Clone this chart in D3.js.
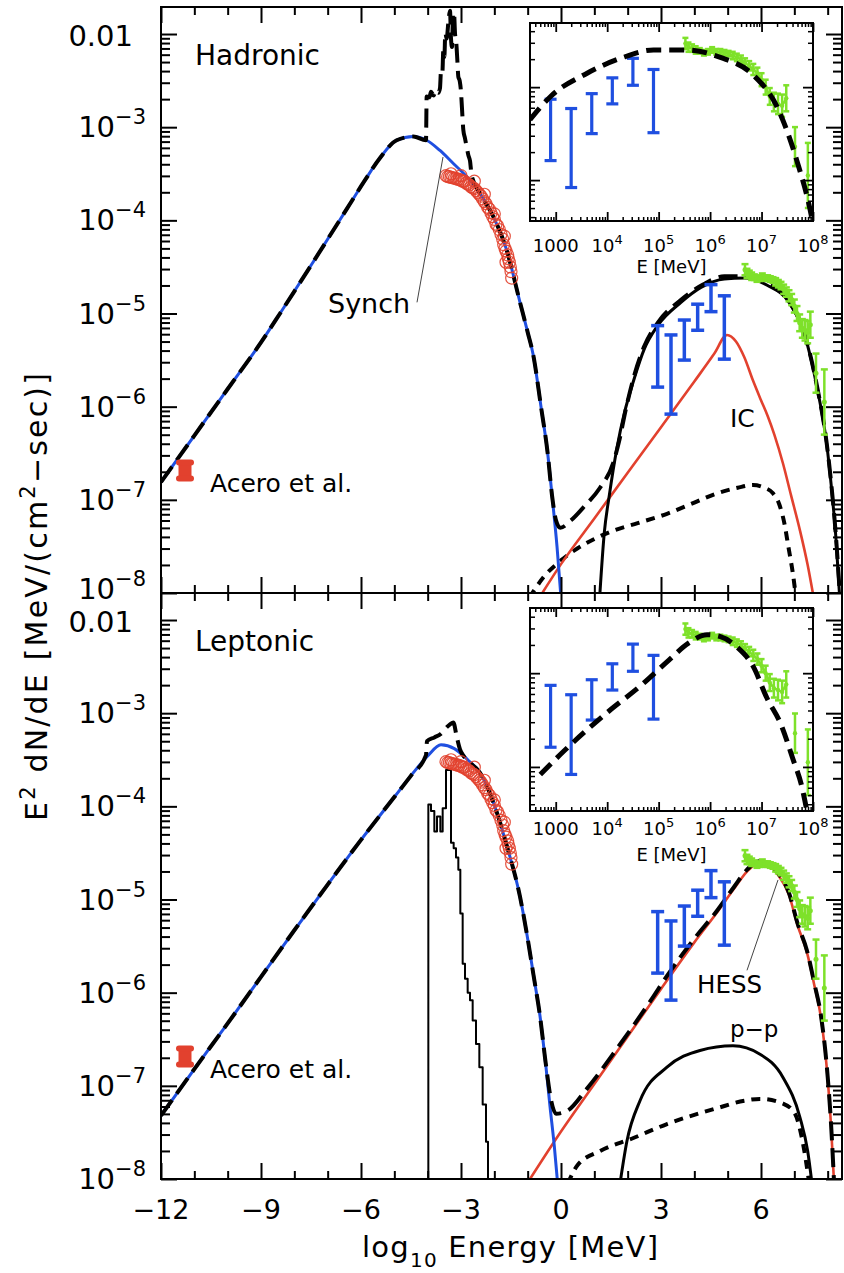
<!DOCTYPE html>
<html><head><meta charset="utf-8">
<script src="https://cdn.jsdelivr.net/npm/d3@7"></script>
<style>
body{margin:0;background:#fff}
svg{display:block}
text{font-family:"DejaVu Sans",sans-serif;fill:#000}
</style></head>
<body><svg id="c" width="844" height="1273"></svg>
<script>
// ---------------- DATA (log10 E [MeV], log10 E^2 dN/dE) ----------------
const xMajorTicks = [-12, -9, -6, -3, 0, 3, 6];
const yDecades = [-8, -7, -6, -5, -4, -3, -2];
const insetDecadesX = [3, 4, 5, 6, 7, 8];
const panelNames = ["Hadronic", "Leptonic"];

// Hadronic model
const synchHad = [[-12,-6.81],[-11,-6.31],[-10,-5.81],[-9,-5.31],[-8.43,-5.0],[-7.44,-4.45],[-6.43,-3.88],[-5.9,-3.58],[-5.43,-3.33],[-4.93,-3.14],[-4.43,-3.10],[-4.03,-3.14],[-3.63,-3.25],[-3.23,-3.39],[-2.83,-3.53],[-2.43,-3.71],[-2.03,-3.96],[-1.63,-4.32],[-1.23,-4.88],[-1.0,-5.2],[-0.83,-5.45],[-0.6,-6.0],[-0.4,-6.5],[-0.27,-6.95],[-0.12,-7.5],[0.0,-8.05]];
const totalHad = [[-12,-6.81],[-11,-6.31],[-10,-5.81],[-9,-5.31],[-8.43,-5.0],[-7.44,-4.45],[-6.43,-3.88],[-5.9,-3.58],[-5.43,-3.33],[-4.93,-3.14],[-4.43,-3.10],[-4.05,-3.14],
 [-4.03,-2.67],[-3.95,-2.68],[-3.90,-2.62],[-3.82,-2.66],[-3.75,-2.60],[-3.68,-2.63],[-3.63,-2.58],[-3.60,-2.40],[-3.56,-2.42],[-3.53,-2.17],[-3.50,-2.25],[-3.47,-1.99],[-3.43,-2.05],[-3.38,-1.88],[-3.33,-1.75],[-3.30,-2.05],[-3.27,-2.14],[-3.24,-1.80],[-3.21,-1.77],[-3.18,-1.99],[-3.14,-2.10],[-3.11,-2.28],[-3.08,-2.46],[-3.04,-2.50],[-3.00,-2.62],[-2.97,-2.80],[-2.93,-3.03],[-2.88,-3.12],[-2.83,-3.21],[-2.78,-3.30],[-2.73,-3.36],[-2.68,-3.52],
 [-2.43,-3.71],[-2.03,-3.96],[-1.63,-4.32],[-1.23,-4.88],[-1.0,-5.2],[-0.83,-5.45],[-0.6,-6.0],[-0.4,-6.5],[-0.27,-6.95],
 [-0.15,-7.22],[-0.02,-7.30],[0.3,-7.22],[0.7,-7.07],[1.17,-6.87],[1.57,-6.60],[1.75,-6.36],[1.95,-6.02],[2.17,-5.70],[2.5,-5.35],[2.9,-5.10],[3.61,-4.85],[4.26,-4.69],[4.9,-4.60],[5.55,-4.60],[6.2,-4.68],[6.84,-4.87],[7.3,-5.21],[7.68,-5.78],[7.97,-6.39],[8.1,-6.8],[8.25,-7.4],[8.38,-8.1]];
const pionHad = [[1.15,-8.1],[1.3,-7.35],[1.45,-6.95],[1.68,-6.44],[1.9,-6.07],[2.17,-5.73],[2.5,-5.38],[2.9,-5.13],[3.6,-4.88],[4.2,-4.72],[4.9,-4.63],[5.5,-4.62],[6.2,-4.70],[6.84,-4.88],[7.3,-5.22],[7.68,-5.79],[7.97,-6.40],[8.1,-6.82],[8.25,-7.42],[8.37,-8.1]];
const icHad = [[-0.65,-8.05],[0,-7.69],[1,-7.2],[2,-6.71],[3,-6.22],[4,-5.73],[4.6,-5.43],[4.98,-5.23],[5.25,-5.3],[5.5,-5.47],[5.76,-5.72],[6.0,-5.93],[6.2,-6.1],[6.4,-6.3],[6.66,-6.61],[6.9,-6.95],[7.17,-7.33],[7.4,-7.7],[7.58,-8.05]];
const bremHad = [[-0.95,-8.05],[-0.5,-7.82],[0,-7.65],[0.5,-7.52],[1.0,-7.42],[1.5,-7.34],[2.3,-7.25],[3.18,-7.15],[4.0,-7.03],[4.68,-6.93],[5.3,-6.87],[5.76,-6.84],[6.1,-6.87],[6.36,-6.93],[6.55,-7.05],[6.7,-7.25],[6.82,-7.5],[6.96,-7.8],[7.05,-8.05]];

// Leptonic model
const synchLep = [[-12,-7.32],[-11,-6.82],[-10,-6.33],[-9,-5.83],[-8,-5.33],[-7,-4.84],[-6,-4.36],[-5,-3.90],[-4.5,-3.67],[-4,-3.46],[-3.6,-3.34],[-3.2,-3.38],[-2.8,-3.50],[-2.43,-3.64],[-1.92,-4.07],[-1.62,-4.43],[-1.23,-4.97],[-1.0,-5.42],[-0.83,-5.80],[-0.63,-6.25],[-0.45,-6.8],[-0.33,-7.22],[-0.2,-7.65],[-0.1,-8.05]];
const totalLep = [[-12,-7.32],[-11,-6.82],[-10,-6.33],[-9,-5.83],[-8,-5.33],[-7,-4.84],[-6,-4.36],[-5,-3.90],[-4.5,-3.67],[-4.05,-3.45],
 [-4.02,-3.30],[-3.8,-3.26],[-3.6,-3.22],[-3.48,-3.17],[-3.33,-3.12],[-3.23,-3.10],[-3.13,-3.25],[-3.03,-3.39],[-2.9,-3.47],
 [-2.43,-3.64],[-1.92,-4.07],[-1.62,-4.43],[-1.23,-4.97],[-1.0,-5.42],[-0.83,-5.80],[-0.63,-6.25],[-0.45,-6.78],[-0.3,-7.15],
 [-0.15,-7.30],[0.18,-7.27],[0.78,-7.03],[1.68,-6.60],[2.7,-6.08],[3.18,-5.82],[4.0,-5.42],[4.68,-5.12],[5.2,-4.86],[5.58,-4.68],[5.94,-4.59],[6.2,-4.61],[6.52,-4.72],[6.84,-4.93],[7.1,-5.26],[7.38,-5.55],[7.6,-5.9],[7.8,-6.25],[8.0,-6.9],[8.1,-7.4],[8.2,-8.1]];
const icLep = [[-1.02,-8.05],[0,-7.49],[1,-6.98],[2,-6.47],[3,-5.96],[4,-5.46],[4.68,-5.14],[5.2,-4.88],[5.58,-4.70],[5.94,-4.61],[6.2,-4.63],[6.52,-4.74],[6.84,-4.95],[7.1,-5.28],[7.38,-5.57],[7.6,-5.92],[7.8,-6.27],[8.0,-6.92],[8.1,-7.42],[8.2,-8.1]];
const bremLep = [[0.2,-8.05],[0.5,-7.85],[1.17,-7.70],[2.17,-7.56],[3.18,-7.41],[4.68,-7.24],[5.5,-7.16],[5.97,-7.14],[6.66,-7.19],[7.02,-7.30],[7.25,-7.6],[7.45,-8.05]];
const ppLep = [[1.77,-8.05],[1.98,-7.59],[2.37,-7.16],[3.18,-6.80],[4.17,-6.62],[5.16,-6.57],[5.97,-6.66],[6.66,-6.91],[7.17,-7.34],[7.4,-7.7],[7.53,-8.05]];
// thermal histogram (bin left edge, value)
const thermalLep = [[-3.98,-9],[-3.98,-3.98],[-3.90,-4.05],[-3.80,-4.27],[-3.72,-4.11],[-3.62,-4.27],[-3.55,-4.02],[-3.45,-3.61],[-3.30,-4.39],[-3.22,-4.45],[-3.15,-4.55],[-3.08,-4.68],[-3.02,-5.15],[-2.95,-5.69],[-2.88,-5.85],[-2.80,-6.00],[-2.73,-6.08],[-2.65,-6.30],[-2.55,-6.55],[-2.45,-6.80],[-2.35,-7.20],[-2.25,-7.60],[-2.19,-8.3],[-2.1,-8.3]];

// Observations
const xrayLogE = [-3.45,-3.40,-3.35,-3.30,-3.25,-3.20,-3.15,-3.10,-3.05,-3.00,-2.95,-2.90,-2.85,-2.80,-2.75,-2.70,-2.65,-2.60,-2.55,-2.50,-2.45,-2.40,-2.35,-2.30,-2.25,-2.20,-2.15,-2.10,-2.05,-2.00,-1.95,-1.90,-1.85,-1.80,-1.75,-1.72,-1.68,-1.65,-1.60,-1.58,-1.55,-1.52,-1.50,-1.48,-2.6,-2.3,-2.0,-1.7,-1.65,-3.3,-3.0];
const xrayLogF = [-3.52,-3.53,-3.53,-3.54,-3.54,-3.55,-3.55,-3.56,-3.56,-3.57,-3.58,-3.58,-3.60,-3.61,-3.62,-3.64,-3.65,-3.66,-3.68,-3.70,-3.72,-3.74,-3.77,-3.80,-3.82,-3.86,-3.88,-3.92,-3.96,-3.99,-4.04,-4.06,-4.10,-4.15,-4.20,-4.26,-4.30,-4.33,-4.37,-4.41,-4.45,-4.50,-4.55,-4.62,-3.58,-3.72,-3.93,-4.17,-4.45,-3.50,-3.52];
const fermiLogE = [2.9, 3.3, 3.7, 4.1, 4.5, 4.9];
const fermiLo = [-5.79, -6.08, -5.50, -5.18, -4.98, -5.49];
const fermiHi = [-5.13, -5.23, -5.07, -4.90, -4.69, -4.81];
const hessLogE = [5.52,5.58,5.65,5.72,5.80,5.88,5.96,6.04,6.12,6.20,6.28,6.36,6.44,6.52,6.60,6.68,6.76,6.84,6.92,7.00,7.08,7.16,7.24,7.32,7.40,7.48,7.65,7.90];
const hessLogF = [-4.53,-4.57,-4.58,-4.60,-4.61,-4.63,-4.62,-4.60,-4.62,-4.62,-4.63,-4.64,-4.66,-4.68,-4.70,-4.74,-4.77,-4.81,-4.85,-4.92,-5.00,-5.10,-5.16,-5.18,-5.20,-5.12,-5.64,-5.95];
const hessErr = [0.06,0.05,0.04,0.04,0.03,0.03,0.03,0.03,0.03,0.03,0.03,0.03,0.04,0.04,0.04,0.05,0.05,0.06,0.06,0.07,0.08,0.09,0.10,0.11,0.12,0.14,0.21,0.35];
const aceroLogE = [-11.28];
const aceroLo = [-6.77];
const aceroHi = [-6.60];

// ---------------- DRAWING ----------------
const P = v => Math.pow(10, v);
const svg = d3.select("#c");
const L = 161, R = 842;
const BLUE = "#1f4fe0", RED = "#e2412e", GREEN = "#7ee12a";
const x = d3.scaleLinear().domain([-12, 8.43]).range([L, R]);
const yDom = [1e-8, P(-1.71)];
const panels = [
  {top: 7, bot: 593, name: panelNames[0], synch: synchHad, total: totalHad, ic: icHad, brem: bremHad, pion: pionHad},
  {top: 593, bot: 1179, name: panelNames[1], synch: synchLep, total: totalLep, ic: icLep, brem: bremLep, pp: ppLep, thermal: thermalLep}
];
const insets = [{left: 530, right: 813, top: 23, bot: 221, ydom: [P(-6.44), P(-4.31)], lab: 252, title: 273},
                {left: 530, right: 813, top: 608, bot: 811, ydom: [P(-6.47), P(-4.305)], lab: 835, title: 861}];

const defs = svg.append("defs");
function clip(id, x0, y0, w, h){ defs.append("clipPath").attr("id", id).append("rect").attr("x", x0).attr("y", y0).attr("width", w).attr("height", h); return `url(#${id})`; }

function tickAxis(g, fn, scale, vals, size, tr, sw){
  const a = fn(scale).tickValues(vals).tickSizeInner(size).tickSizeOuter(0).tickFormat("");
  const gg = g.append("g").attr("transform", tr).call(a);
  gg.select(".domain").remove();
  gg.selectAll("line").attr("stroke", "#000").attr("stroke-width", sw);
}
function logMinor(lo, hi){ const out=[]; for(let e=-10;e<=9;e++) for(let m=2;m<=9;m++){ const v=m*P(e); if(v>lo && v<hi) out.push(v);} return out; }

function drawLine(g, data, fx, fy, stroke, sw, dash, curve){
  g.append("path").datum(data)
   .attr("d", d3.line().x(fx).y(fy).curve(curve || d3.curveMonotoneX))
   .attr("fill","none").attr("stroke",stroke).attr("stroke-width",sw)
   .attr("stroke-dasharray", dash || null).attr("stroke-linejoin","round");
}
function errBars(g, xs, lo, hi, fx, fy, color, sw, cap){
  xs.forEach((e,i)=>{
    const xx = fx(e), y1 = fy(lo[i]), y2 = fy(hi[i]);
    g.append("line").attr("x1",xx).attr("x2",xx).attr("y1",y1).attr("y2",y2).attr("stroke",color).attr("stroke-width",sw);
    [y1,y2].forEach(yy=> g.append("line").attr("x1",xx-cap/2).attr("x2",xx+cap/2).attr("y1",yy).attr("y2",yy).attr("stroke",color).attr("stroke-width",sw));
  });
}
function hess(g, fx, fy, sw, cap, r){
  // connecting through the dense points
  drawLine(g, hessLogE.map((e,i)=>[e,hessLogF[i]]).filter(d=>d[0]<7.5), d=>fx(d[0]), d=>fy(d[1]), GREEN, sw, null, d3.curveLinear);
  hessLogE.forEach((e,i)=>{
    const xx = fx(e), yc = fy(hessLogF[i]), y1 = fy(hessLogF[i]-hessErr[i]), y2 = fy(hessLogF[i]+hessErr[i]);
    g.append("line").attr("x1",xx).attr("x2",xx).attr("y1",y1).attr("y2",y2).attr("stroke",GREEN).attr("stroke-width",sw);
    [y1,y2].forEach(yy=> g.append("line").attr("x1",xx-cap/2).attr("x2",xx+cap/2).attr("y1",yy).attr("y2",yy).attr("stroke",GREEN).attr("stroke-width",sw));
    g.append("circle").attr("cx",xx).attr("cy",yc).attr("r",r).attr("fill",GREEN);
  });
}

panels.forEach((p, pi) => {
  const y = d3.scaleLog().domain(yDom).range([p.bot, p.top]);
  const fx = d => x(d[0]), fy = d => y(P(d[1]));
  const g = svg.append("g");
  const cg = g.append("g").attr("clip-path", clip("pc"+pi, L, p.top, R-L, p.bot-p.top));

  if (p.thermal) drawLine(cg, p.thermal, fx, fy, "#000", 2, null, d3.curveStepAfter);
  if (p.pp) drawLine(cg, p.pp, fx, fy, "#000", 3);
  drawLine(cg, p.brem, fx, fy, "#000", 4, "9,7");
  drawLine(cg, p.ic, fx, fy, RED, 2.6);
  if (p.pion) drawLine(cg, p.pion, fx, fy, "#000", 3);
  drawLine(cg, p.synch, fx, fy, BLUE, 3);
  drawLine(cg, p.total, fx, fy, "#000", 4, "19,8");

  // X-ray circles
  xrayLogE.forEach((e,i)=> cg.append("circle").attr("cx", x(e)).attr("cy", y(P(xrayLogF[i]))).attr("r", 6)
     .attr("fill","none").attr("stroke", RED).attr("stroke-width", 1.2).attr("opacity",0.9));
  // Fermi
  errBars(cg, fermiLogE, fermiLo, fermiHi, e=>x(e), v=>y(P(v)), BLUE, 3.5, 13);
  // HESS
  hess(cg, e=>x(e), v=>y(P(v)), 2.5, 7, 2.5);
  // Acero
  aceroLogE.forEach((e,i)=>{
    const xx = x(e), y1 = y(P(aceroLo[i])), y2 = y(P(aceroHi[i]));
    cg.append("line").attr("x1",xx).attr("x2",xx).attr("y1",y1).attr("y2",y2).attr("stroke",RED).attr("stroke-width",13);
    [y1,y2].forEach(yy=> cg.append("line").attr("x1",xx-6).attr("x2",xx+6).attr("y1",yy).attr("y2",yy).attr("stroke",RED).attr("stroke-width",6).attr("stroke-linecap","round"));
  });

  // frame + ticks
  g.append("rect").attr("x",L).attr("y",p.top).attr("width",R-L).attr("height",p.bot-p.top).attr("fill","none").attr("stroke","#000").attr("stroke-width",2);
  const xMinor = d3.range(-12, 9).filter(v => !xMajorTicks.includes(v));
  const xMaj = xMajorTicks;
  tickAxis(g, d3.axisBottom, x, xMinor, -8, `translate(0,${p.bot})`, 2);
  tickAxis(g, d3.axisBottom, x, xMaj, -16, `translate(0,${p.bot})`, 2);
  tickAxis(g, d3.axisTop, x, xMinor, -8, `translate(0,${p.top})`, 2);
  tickAxis(g, d3.axisTop, x, xMaj, -16, `translate(0,${p.top})`, 2);
  const yMin = logMinor(yDom[0], yDom[1]);
  const yMaj = yDecades.map(P);
  tickAxis(g, d3.axisLeft, y, yMin, -9, `translate(${L},0)`, 2);
  tickAxis(g, d3.axisLeft, y, yMaj, -16, `translate(${L},0)`, 2);
  tickAxis(g, d3.axisRight, y, yMin, -9, `translate(${R},0)`, 2);
  tickAxis(g, d3.axisRight, y, yMaj, -16, `translate(${R},0)`, 2);

  // y labels
  yDecades.forEach(e => {
    const yy = y(P(e));
    if (e === -2) {
      g.append("text").attr("x",133).attr("y",yy+12).attr("text-anchor","end").attr("font-size",29).text("0.01");
    } else {
      const t = g.append("text").attr("x",146).attr("y",yy+ (e === -8 && pi === 0 ? 6 : 10)).attr("text-anchor","end").attr("font-size",29);
      t.append("tspan").text("10");
      t.append("tspan").attr("dy",-13).attr("font-size",21).text("\u2212" + (-e));
    }
  });
  // panel name
  g.append("text").attr("x", x(-10.98)).attr("y", y(P(-2.33))).attr("font-size",28).text(p.name);
  // Acero label
  g.append("text").attr("x", x(-10.53)).attr("y", y(P(-6.92))).attr("font-size",25).text("Acero et al.");

  if (pi === 0) {
    g.append("text").attr("x", x(-6.99)).attr("y", y(P(-4.995))).attr("font-size",27).text("Synch");
    g.append("line").attr("x1",x(-4.32)).attr("y1",y(P(-4.88))).attr("x2",x(-3.54)).attr("y2",y(P(-3.32))).attr("stroke","#444").attr("stroke-width",1);
    g.append("text").attr("x", x(5.07)).attr("y", y(P(-6.22))).attr("font-size",25).text("IC");
  } else {
    g.append("text").attr("x", x(4.08)).attr("y", y(P(-6.0))).attr("font-size",24.5).text("HESS");
    g.append("line").attr("x1",x(5.58)).attr("y1",y(P(-5.76))).attr("x2",x(6.51)).attr("y2",y(P(-4.79))).attr("stroke","#444").attr("stroke-width",1);
    g.append("text").attr("x", x(5.07)).attr("y", y(P(-6.48))).attr("font-size",23).text("p\u2212p");
  }

  // ---------- inset ----------
  const ins = insets[pi];
  const ix = d3.scaleLog().domain([P(2.5), P(8)]).range([ins.left, ins.right]);
  const iy = d3.scaleLog().domain(ins.ydom).range([ins.bot, ins.top]);
  const ig = svg.append("g");
  ig.append("rect").attr("x",ins.left).attr("y",ins.top).attr("width",ins.right-ins.left).attr("height",ins.bot-ins.top).attr("fill","#fff");
  const icg = ig.append("g").attr("clip-path", clip("ic"+pi, ins.left, ins.top, ins.right-ins.left, ins.bot-ins.top));
  errBars(icg, fermiLogE, fermiLo, fermiHi, e=>ix(P(e)), v=>iy(P(v)), BLUE, 3.2, 12);
  hess(icg, e=>ix(P(e)), v=>iy(P(v)), 2.5, 6, 2.2);
  drawLine(icg, p.total.filter(d=>d[0]>=2.3), d=>ix(P(d[0])), d=>iy(P(d[1])), "#000", 5, "15,8");
  ig.append("rect").attr("x",ins.left).attr("y",ins.top).attr("width",ins.right-ins.left).attr("height",ins.bot-ins.top).attr("fill","none").attr("stroke","#000").attr("stroke-width",2);
  const ixMaj = insetDecadesX.map(P);
  const ixMin = logMinor(P(2.5), P(8));
  tickAxis(ig, d3.axisBottom, ix, ixMin, -4, `translate(0,${ins.bot})`, 1.5);
  tickAxis(ig, d3.axisBottom, ix, ixMaj, -9, `translate(0,${ins.bot})`, 1.8);
  tickAxis(ig, d3.axisTop, ix, ixMin, -4, `translate(0,${ins.top})`, 1.5);
  tickAxis(ig, d3.axisTop, ix, ixMaj, -9, `translate(0,${ins.top})`, 1.8);
  const iyMin = logMinor(ins.ydom[0], ins.ydom[1]);
  const iyMaj = [P(-6), P(-5)];
  tickAxis(ig, d3.axisLeft, iy, iyMin, -5, `translate(${ins.left},0)`, 1.5);
  tickAxis(ig, d3.axisLeft, iy, iyMaj, -10, `translate(${ins.left},0)`, 1.8);
  tickAxis(ig, d3.axisRight, iy, iyMin, -5, `translate(${ins.right},0)`, 1.5);
  tickAxis(ig, d3.axisRight, iy, iyMaj, -10, `translate(${ins.right},0)`, 1.8);
  insetDecadesX.forEach(e => {
    const t = ig.append("text").attr("x", ix(P(e))).attr("y", ins.lab).attr("text-anchor","middle").attr("font-size",18);
    if (e === 3) t.text("1000");
    else { t.append("tspan").text("10"); t.append("tspan").attr("dy",-8).attr("font-size",13).text(e); }
  });
  ig.append("text").attr("x", (ins.left+ins.right)/2).attr("y", ins.title).attr("text-anchor","middle").attr("font-size",18).text("E [MeV]");
});

// x tick labels
xMajorTicks.forEach(v => {
  svg.append("text").attr("x", x(v)).attr("y", 1219).attr("text-anchor","middle").attr("font-size",27)
     .text(v < 0 ? "\u2212" + (-v) : String(v));
});
// x title
const xt = svg.append("text").attr("x", 362).attr("y", 1257).attr("font-size",29).attr("textLength",296).attr("lengthAdjust","spacing");
xt.append("tspan").text("log");
xt.append("tspan").attr("dy",10).attr("font-size",20).text("10");
xt.append("tspan").attr("dy",-10).text(" Energy [MeV]");
// y title
const yt = svg.append("text").attr("transform","translate(47,597) rotate(-90)").attr("text-anchor","middle").attr("font-size",30)
  .attr("textLength",448).attr("lengthAdjust","spacing");
yt.append("tspan").text("E");
yt.append("tspan").attr("dy",-12).attr("font-size",21).text("2");
yt.append("tspan").attr("dy",12).text(" dN/dE  [MeV/(cm");
yt.append("tspan").attr("dy",-12).attr("font-size",21).text("2");
yt.append("tspan").attr("dy",12).text("\u2212sec)]");
</script>
</body></html>
